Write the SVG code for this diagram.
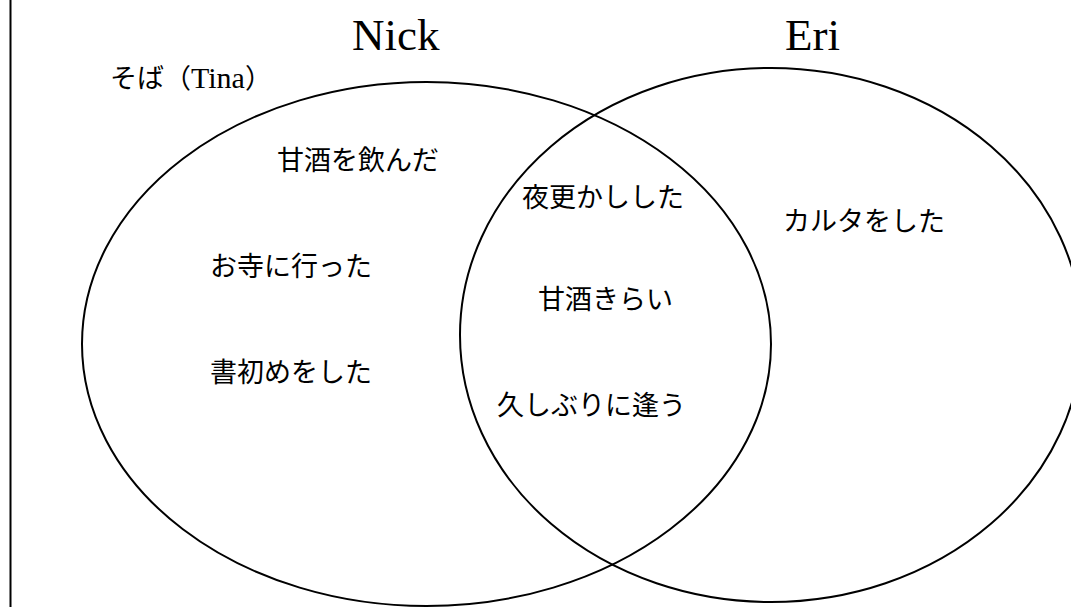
<svg xmlns="http://www.w3.org/2000/svg" width="1071" height="607" viewBox="0 0 1071 607">
<style>
.set{fill:none;stroke:#000;stroke-width:2}
.lbl{font-family:"Liberation Serif","Noto Sans CJK JP",serif;fill:#000}
.title{font-size:45px}
.item{font-size:27px}
</style>
<rect width="1071" height="607" fill="#fff"/>
<line x1="10.5" y1="0" x2="10.5" y2="607" stroke="#000" stroke-width="2"/>
<g id="nick">
<ellipse class="set" cx="426.5" cy="344" rx="344.5" ry="262"/>
<text class="lbl title" x="352" y="50">Nick</text>
</g>
<g id="eri">
<ellipse class="set" cx="771" cy="335" rx="311" ry="267"/>
<text class="lbl title" x="785" y="50">Eri</text>
</g>
<g id="tina">
<text class="lbl item" x="110" y="88">そば（<tspan font-size="30">Tina</tspan>）</text>
</g>
<g id="nick-items">
<text class="lbl item" x="277" y="170">甘酒を飲んだ</text>
<text class="lbl item" x="210" y="276">お寺に行った</text>
<text class="lbl item" x="210" y="382">書初めをした</text>
</g>
<g id="both-items">
<text class="lbl item" x="522" y="207">夜更かしした</text>
<text class="lbl item" x="538" y="309">甘酒きらい</text>
<text class="lbl item" x="497" y="415">久しぶりに逢う</text>
</g>
<g id="eri-items">
<text class="lbl item" x="783" y="231">カルタをした</text>
</g>
<g id="connectors"/>
</svg>
